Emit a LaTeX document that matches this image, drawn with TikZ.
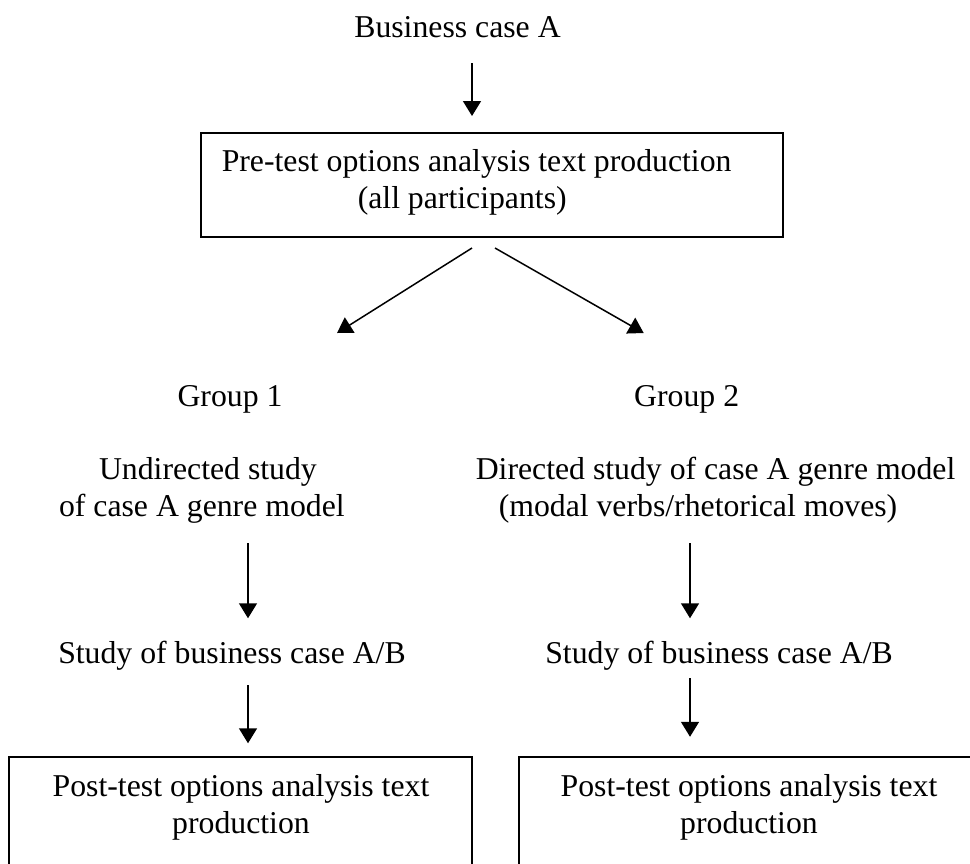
\documentclass[tikz,border=0pt]{standalone}
\usepackage{fontspec}
\setmainfont{Liberation Serif}
\usetikzlibrary{arrows.meta}

\begin{document}
\begin{tikzpicture}[x=0.4pt, y=-0.4pt, every node/.style={font=\fontsize{12.7}{14.8}\selectfont, inner sep=0pt}, box/.style={draw, line width=0.8pt}, >={Triangle[length=6pt,width=7.2pt]}, line width=0.6pt]
	\path[use as bounding box, clip] (0,0) rectangle (970,863);
	\coordinate (colA) at (472,0); \coordinate (colL) at (248,0); \coordinate (colR) at (690,0);
	\node[anchor=base] (bizA) at (457.5,37.3) {Business case A};
	\node[box, minimum width=232.8pt, minimum height=41.6pt] (pretestbox) at (492,185) {};
	\node[anchor=base west, align=left] (pretest) at (221,208) {Pre-test options analysis text production\\\hspace*{54.4pt}(all participants)};
	\node[anchor=base] (group1) at (230,406) {Group 1};
	\node[anchor=base] (group2) at (686.7,406) {Group 2};
	\node[anchor=base west, align=left] (undirected) at (58.3,516) {\hspace*{16pt}Undirected study\\of case A genre model};
	\node[anchor=base west, align=left] (directed) at (475,516) {Directed study of case A genre model\\\hspace*{9.2pt}(modal verbs/rhetorical moves)};
	\node[anchor=base] (study1) at (232,663) {Study of business case A/B};
	\node[anchor=base] (study2) at (719,663) {Study of business case A/B};
	\node[box, anchor=north, minimum width=185.1pt, minimum height=80pt] (postbox1) at (240.6,756) {};
	\node[box, anchor=north, minimum width=185.1pt, minimum height=80pt] (postbox2) at (750.5,756) {};
	\node[anchor=base, align=center] (post1) at (241,833.3) {Post-test options analysis text\\production};
	\node[anchor=base, align=center] (post2) at (749,833.3) {Post-test options analysis text\\production};
	\draw[->, shorten <=10.3pt, shorten >=6.4pt] (bizA.base -| colA) -- (pretestbox.north -| colA);
	\draw[->] ([shift={(-20,10)}]pretestbox.south) -- ([shift={(107,-73)}]group1.base);
	\draw[->] ([shift={(3,10)}]pretestbox.south) -- ([shift={(-43,-73)}]group2.base);
	\draw[->, shorten <=10.9pt, shorten >=17.9pt] (undirected.base -| colL) -- (study1.base -| colL);
	\draw[->, shorten <=10.9pt, shorten >=17.9pt] (directed.base -| colR) -- (study2.base -| colR);
	\draw[->, shorten <=8.8pt, shorten >=5.1pt] (study1.base -| colL) -- (postbox1.north -| colL);
	\draw[->, shorten <=6.1pt, shorten >=7.7pt] (study2.base -| colR) -- (postbox2.north -| colR);
\end{tikzpicture}
\end{document}
